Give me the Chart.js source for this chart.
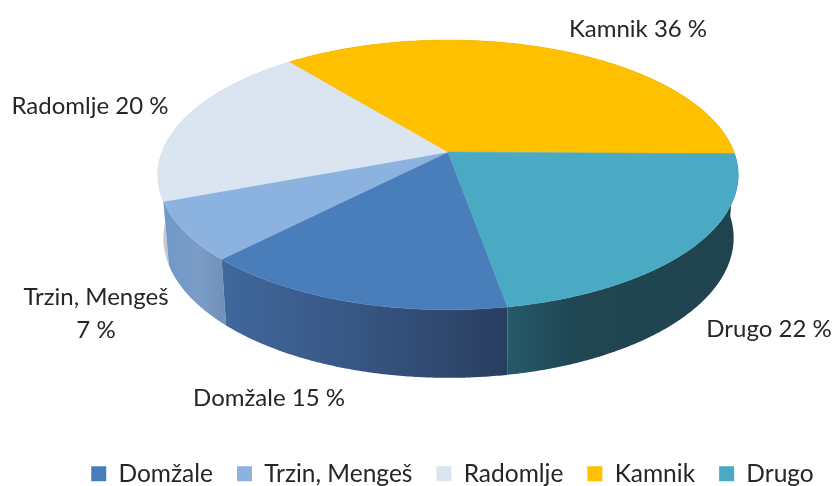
<!DOCTYPE html>
<html><head><meta charset="utf-8">
<style>html,body{margin:0;padding:0;background:#fff}canvas{display:block}</style>
<script src="https://cdn.jsdelivr.net/npm/chart.js@4"></script>
</head><body>
<canvas id="c" width="833" height="486"></canvas>
<script>
const categories = ["Domžale", "Trzin, Mengeš", "Radomlje", "Kamnik", "Drugo"];
const shares = [15, 7, 20, 36, 22];
const topColors = ["#4a7ebb", "#8cb2e0", "#dbe5f1", "#ffc000", "#4aaac4"];
const wallStops = [
  [[0, "#40689c"], [0.45, "#385785"], [1, "#283e5f"]],
  [[0, "#6f98c9"], [0.6, "#7b9cc6"], [1, "#7292bb"]],
  [[0, "#c8ccd2"], [1, "#a8aeb6"]],
  [[0, "#a07a00"], [1, "#a07a00"]],
  [[0, "#26596a"], [0.3, "#1f4652"], [1, "#1f4450"]]
];
const labelAnchors = [[269, 398], [96, 297], [90, 106], [638, 29], [769, 329]];
const labelWraps = [false, true, false, false, false];

const persp = 0.17;
const topDisc = { cx: 448, cy: 152, rx: 286, ry: 131 };
const baseDisc = { cx: 448.5, cy: 214, rx: 281, ry: 136 };
const project = (d, a) => {
  const w = 1 - persp * Math.sin(a);
  return [d.cx + d.rx * Math.cos(a) / w, d.cy + d.ry * Math.sin(a) / w];
};
const rimPath = (ctx, d, a0, a1, first) => {
  const n = Math.max(2, Math.ceil(Math.abs(a1 - a0) / 0.008));
  for (let i = 0; i <= n; i++) {
    const p = project(d, a0 + (a1 - a0) * i / n);
    if (i === 0 && first) ctx.moveTo(p[0], p[1]); else ctx.lineTo(p[0], p[1]);
  }
};
const pie3d = {
  id: "pie3d",
  afterLayout(chart) {
    chart.legend.left += 36;
    chart.legend.right += 36;
    chart.legend.top += 10;
    chart.legend.bottom += 10;
  },
  beforeDatasetsDraw(chart) {
    const ctx = chart.ctx, arcs = chart.getDatasetMeta(0).data;
    const order = arcs.map((el, i) => i).sort((a, b) =>
      Math.sin((arcs[a].startAngle + arcs[a].endAngle) / 2) - Math.sin((arcs[b].startAngle + arcs[b].endAngle) / 2));
    ctx.save();
    order.forEach(i => {
      const { startAngle: a0, endAngle: a1 } = arcs[i];
      let minX = 1e9, maxX = -1e9;
      for (let k = 0; k <= 60; k++) {
        const p = project(topDisc, a0 + (a1 - a0) * k / 60);
        minX = Math.min(minX, p[0]); maxX = Math.max(maxX, p[0]);
      }
      const g = ctx.createLinearGradient(minX, 0, maxX, 0);
      wallStops[i].forEach(s => g.addColorStop(s[0], s[1]));
      ctx.beginPath();
      rimPath(ctx, topDisc, a0, a1, true);
      rimPath(ctx, baseDisc, a1, a0, false);
      ctx.closePath();
      ctx.fillStyle = g;
      ctx.fill();
    });
    arcs.forEach((el, i) => {
      ctx.beginPath();
      ctx.moveTo(topDisc.cx, topDisc.cy);
      rimPath(ctx, topDisc, el.startAngle, el.endAngle, false);
      ctx.closePath();
      ctx.fillStyle = topColors[i];
      ctx.strokeStyle = topColors[i];
      ctx.lineWidth = 0.5;
      ctx.fill();
      ctx.stroke();
    });
    ctx.restore();
    return false;
  },
  afterDraw(chart) {
    const ctx = chart.ctx;
    ctx.save();
    ctx.font = '24px Lato';
    ctx.fillStyle = "#262626";
    ctx.textAlign = "center";
    ctx.textBaseline = "middle";
    categories.forEach((name, i) => {
      const [x, y] = labelAnchors[i];
      if (labelWraps[i]) {
        ctx.fillText(name, x, y);
        ctx.fillText(shares[i] + " %", x, y + 33);
      } else {
        ctx.fillText(name + " " + shares[i] + " %", x, y);
      }
    });
    ctx.restore();
  }
};
new Chart(document.getElementById("c"), {
  type: "pie",
  plugins: [pie3d],
  data: { labels: categories, datasets: [{ data: shares, backgroundColor: topColors, borderWidth: 0 }] },
  options: {
    responsive: false,
    animation: false,
    rotation: 170,
    plugins: {
      tooltip: { enabled: false },
      legend: {
        position: "bottom",
        labels: { boxWidth: 15, boxHeight: 15, padding: 24, color: "#262626", font: { family: "Lato", size: 24.5 } }
      }
    }
  }
});
</script>
</body></html>
